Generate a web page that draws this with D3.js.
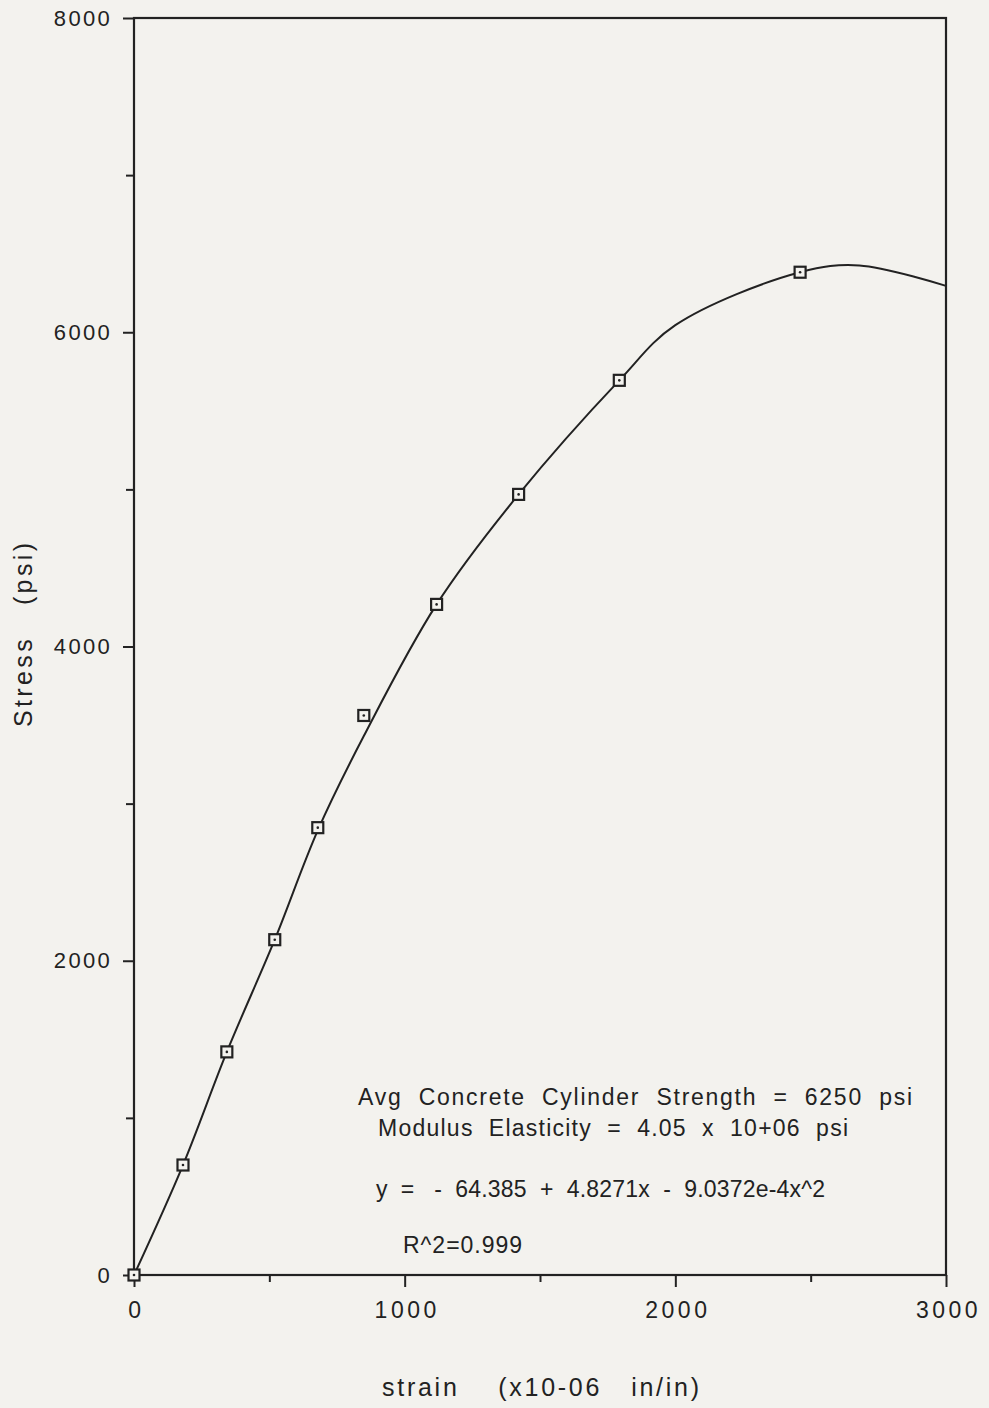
<!DOCTYPE html>
<html>
<head>
<meta charset="utf-8">
<script src="https://cdn.jsdelivr.net/npm/d3@7"></script>
<style>
  body { margin: 0; background: #f3f2ee; }
  svg text { font-family: "Liberation Sans", Arial, sans-serif; fill: #222; white-space: pre; }
</style>
</head>
<body>
<svg id="chart"></svg>
<script>
// measured points (strain x10-06, stress psi)
const strain = [0, 181, 343, 520, 679, 849, 1118, 1421, 1793, 2461];
const stress = [0, 700, 1420, 2134, 2847, 3561, 4268, 4968, 5694, 6382];

// fitted curve as drawn
const curveStrain = [0, 181, 343, 520, 679, 849, 1118, 1421, 1793, 2000, 2461, 2680, 3000];
const curveStress = [0, 700, 1420, 2134, 2830, 3430, 4268, 4968, 5694, 6045, 6382, 6425, 6295];

const xTicks = [0, 1000, 2000, 3000];
const xMinor = [500, 1500, 2500];
const yTicks = [0, 2000, 4000, 6000, 8000];
const yMinor = [1000, 3000, 5000, 7000];

const notes = [
  'Avg  Concrete  Cylinder  Strength  =  6250  psi',
  'Modulus  Elasticity  =  4.05  x  10+06  psi',
  'y  =   -  64.385  +  4.8271x  -  9.0372e-4x^2',
  'R^2=0.999'
];

const W = 989, H = 1408;
const margin = { top: 18, right: 43, bottom: 133, left: 134 };
const width = W - margin.left - margin.right;
const height = H - margin.top - margin.bottom;
const ink = '#222';

const svg = d3.select('#chart').attr('width', W).attr('height', H);
const g = svg.append('g').attr('transform', `translate(${margin.left},${margin.top})`);

const x = d3.scaleLinear().domain([0, 3000]).range([0, width]);
const y = d3.scaleLinear().domain([0, 8000]).range([height, 0]);

// frame
g.append('rect').attr('width', width).attr('height', height)
  .attr('fill', 'none').attr('stroke', ink).attr('stroke-width', 2.2);

// axes
const xAxis = g.append('g').attr('transform', `translate(0,${height})`)
  .call(d3.axisBottom(x).tickValues(xTicks).tickSize(12).tickPadding(14).tickFormat(d3.format('d')));
g.append('g').attr('transform', `translate(0,${height})`)
  .call(d3.axisBottom(x).tickValues(xMinor).tickSize(7).tickFormat(''));
const yAxis = g.append('g')
  .call(d3.axisLeft(y).tickValues(yTicks).tickSize(11).tickPadding(11).tickFormat(d3.format('d')));
g.append('g')
  .call(d3.axisLeft(y).tickValues(yMinor).tickSize(8).tickFormat(''));

g.selectAll('.domain').remove();
g.selectAll('.tick line').attr('stroke', ink).attr('stroke-width', 2);
g.selectAll('.tick text').style('font-size', '22px').attr('fill', ink);
xAxis.selectAll('.tick text').style('font-size', '23px').style('letter-spacing', '3.5px').attr('dx', '2px').attr('dy', '0.72em');
yAxis.selectAll('.tick text').style('letter-spacing', '2.3px');

// curve
const line = d3.line()
  .x((d, i) => x(curveStrain[i]))
  .y(d => y(d))
  .curve(d3.curveCatmullRom.alpha(0.5));

g.append('path')
  .datum(curveStress)
  .attr('fill', 'none')
  .attr('stroke', ink)
  .attr('stroke-width', 2)
  .attr('d', line);

// markers
const pts = strain.map((s, i) => ({ s, v: stress[i] }));
const mk = g.selectAll('.pt').data(pts).enter().append('g')
  .attr('transform', d => `translate(${x(d.s)},${y(d.v)})`);
mk.append('rect').attr('x', -5.5).attr('y', -5.5).attr('width', 11).attr('height', 11)
  .attr('fill', '#f3f2ee').attr('stroke', ink).attr('stroke-width', 2.2);
mk.append('circle').attr('r', 1.3).attr('fill', ink);

// annotations
const noteX = [358, 378, 376, 403];
const noteY = [1105, 1136, 1197, 1253];
const noteW = [554, 470, 449, 119];
svg.selectAll('.note').data(notes).enter().append('text')
  .attr('x', (d, i) => noteX[i]).attr('y', (d, i) => noteY[i])
  .attr('textLength', (d, i) => noteW[i])
  .attr('lengthAdjust', 'spacing')
  .style('font-size', '23px')
  .text(d => d);

// axis titles
svg.append('text').attr('x', 382).attr('y', 1396)
  .attr('textLength', 317).attr('lengthAdjust', 'spacing')
  .style('font-size', '25px')
  .text('strain    (x10-06   in/in)');

svg.append('text')
  .attr('transform', 'translate(32,635) rotate(-90)')
  .attr('text-anchor', 'middle')
  .attr('textLength', 184).attr('lengthAdjust', 'spacing')
  .style('font-size', '25px')
  .text('Stress   (psi)');
</script>
</body>
</html>
